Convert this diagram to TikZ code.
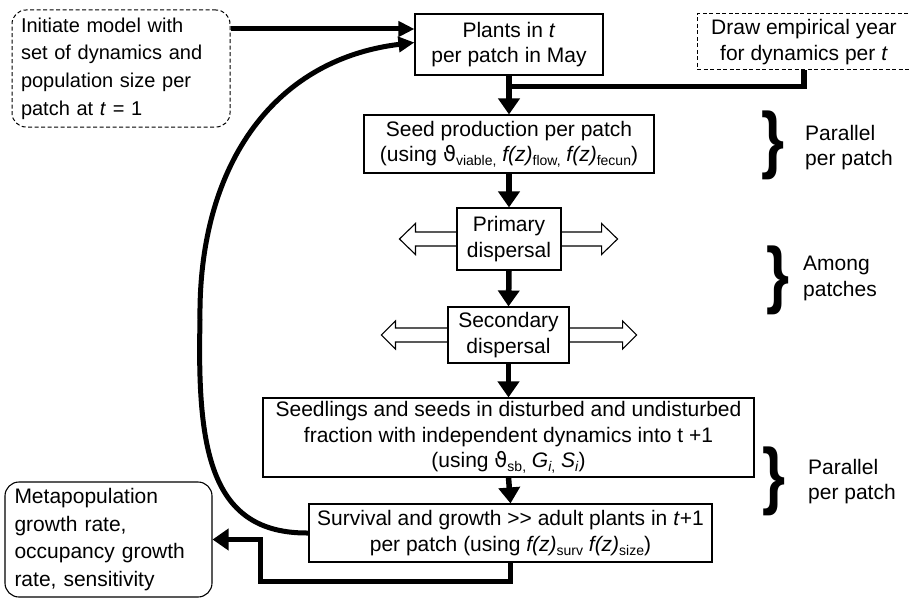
\documentclass[tikz,border=0pt]{standalone}
\usepackage{fontspec}
\setmainfont{Liberation Sans}
\newfontfamily\symfont{DejaVu Sans}
\usetikzlibrary{arrows.meta,calc}
\newcommand{\lsub}[1]{\raisebox{-0.35ex}{\fontsize{14}{14}\selectfont #1}}
\newcommand{\vth}{{\symfont ϑ}}
\begin{document}
\begin{tikzpicture}[x=1pt,y=-1pt,
  txt/.style={font=\fontsize{21}{25.5}\selectfont},
  box/.style={txt, draw, line width=1.1pt, inner sep=0pt, align=center},
  dbox/.style={box, dashed, dash pattern=on 4pt off 2.5pt, line width=1pt},
  lbox/.style={txt, draw, line width=1.1pt, inner ysep=0pt, align=left, font=\fontsize{21}{27.7}\selectfont},
  conn/.style={line width=5.5pt, -{Triangle[width=21pt,length=16pt]}},
  connsmall/.style={line width=5pt, -{Triangle[width=15pt,length=16pt]}},
  thickline/.style={line width=5.5pt, line join=miter},
  side/.style={line width=1.1pt, line join=miter},
  bracetxt/.style={font=\fontsize{74}{74}\selectfont\bfseries, inner sep=0pt, xscale=0.8},
  lab/.style={txt, anchor=west, align=left, inner sep=0pt}]
\useasboundingbox (0,0) rectangle (909,599);

% nodes
\node[lbox, dashed, dash pattern=on 4pt off 2.5pt, line width=1pt, rounded corners=14pt,
      minimum width=218pt, minimum height=117pt, text width=200pt, inner xsep=9pt,
      font=\fontsize{20}{27.7}\selectfont]
  (init) at (121,68.5) {Initiate model with\\set of dynamics and\\population size per\\patch at \textit{t} = 1};
\node[box, minimum width=188pt, minimum height=61pt] (plants) at (509,44.5)
  {Plants in \textit{t}\\per patch in May};
\node[dbox, minimum width=214pt, minimum height=56pt] (emp) at (804,42)
  {Draw empirical year\\for dynamics per \textit{t}};
\node[box, minimum width=290pt, minimum height=58pt] (seed) at (509,144)
  {Seed production per patch\\(using \vth\lsub{viable,} \textit{f(z)}\lsub{flow,} \textit{f(z)}\lsub{fecun})};
\node[box, minimum width=104pt, minimum height=62pt] (prim) at (509,239)
  {Primary\\dispersal};
\node[box, minimum width=121pt, minimum height=56pt] (sec) at (508.5,335)
  {Secondary\\dispersal};
\node[box, minimum width=491pt, minimum height=79pt] (seedl) at (508.5,437.5)
  {Seedlings and seeds in disturbed and undisturbed\\fraction with independent dynamics into t +1\\(using \vth\lsub{sb,} \textit{G}\lsub{\textit{i},} \textit{S}\lsub{\textit{i}})};
\node[box, minimum width=403pt, minimum height=58pt] (surv) at (510.5,533)
  {Survival and growth >\kern0pt> adult plants in \textit{t}+1\\per patch (using \textit{f(z)}\lsub{surv} \textit{f(z)}\lsub{size})};
\node[lbox, rounded corners=14pt, minimum width=207pt, minimum height=115pt,
      text width=188pt, inner xsep=9.5pt]
  (meta) at (108.5,539.5) {Metapopulation\\growth rate,\\occupancy growth\\rate, sensitivity};

% braces and labels
\node[bracetxt] (b1) at (773,145.5) {\}};
\node[bracetxt] (b2) at (778,280.5) {\}};
\node[bracetxt] (b3) at (774,481.5) {\}};
\node[lab] (l1) at (805,147.5) {Parallel\\per patch};
\node[lab] (l2) at (803,278.5) {Among\\patches};
\node[lab] (l3) at (808,481.5) {Parallel\\per patch};

% connectors
\coordinate (p1) at ($(plants.west)+(0,-15.5)$);
\coordinate (p2) at ($(plants.west)+(0,-2)$);
\draw[connsmall] (init.east |- p1) -- (p1);
\draw[connsmall] (surv.west) .. controls (210,534) and (197,450) .. (200,320)
   .. controls (198,170) and (270,60) .. (p2);

\coordinate (j) at ($(plants.south)!0.28!(seed.north)+(-2.75,0)$);
\draw[conn] (plants.south) -- (seed.north);
\draw[thickline] (emp.south) |- (j);

\draw[conn] (seed.south) -- (prim.north);
\draw[conn] (prim.south) -- (sec.north);
\draw[conn] (sec.south) -- (seedl.north);
\draw[conn] (seedl.south) -- (surv.north);

\coordinate (k1) at ($(surv.south)+(0,19)$);
\coordinate (k2) at ($(meta.east)+(48,0)$);
\draw[conn, line join=miter] (surv.south) -- (k1) -| (k2) -- (meta.east);

% side dispersal arrows
\draw[side] ($(prim.west)+(0,-7)$) -- ++(-41,0) -- ++(0,-8.5) -- ++(-16,15.5) -- ++(16,15.5) -- ++(0,-8.5) -- ($(prim.west)+(0,7)$);
\draw[side] ($(prim.east)+(0,-7)$) -- ++(40,0) -- ++(0,-8.5) -- ++(16,15.5) -- ++(-16,15.5) -- ++(0,-8.5) -- ($(prim.east)+(0,7)$);
\draw[side] ($(sec.west)+(0,-7)$) -- ++(-52,0) -- ++(0,-7) -- ++(-14,14) -- ++(14,14) -- ++(0,-7) -- ($(sec.west)+(0,7)$);
\draw[side] ($(sec.east)+(0,-7)$) -- ++(53,0) -- ++(0,-7) -- ++(14,14) -- ++(-14,14) -- ++(0,-7) -- ($(sec.east)+(0,7)$);
\end{tikzpicture}
\end{document}
